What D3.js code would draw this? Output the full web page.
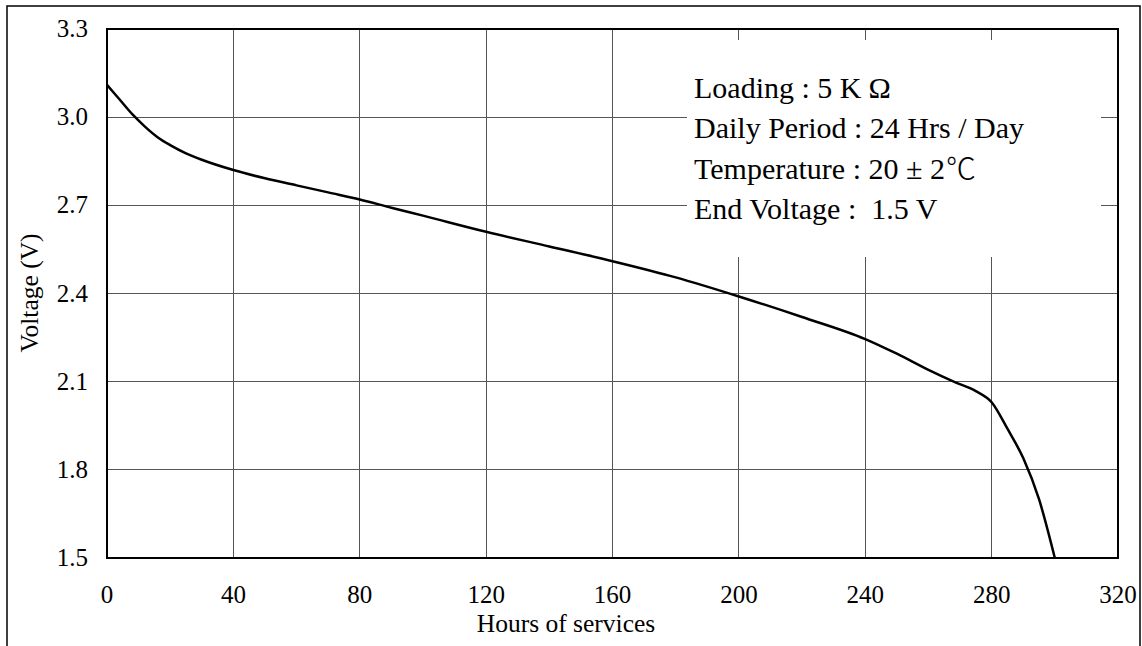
<!DOCTYPE html>
<html>
<head>
<meta charset="utf-8">
<script src="https://cdn.jsdelivr.net/npm/d3@7"></script>
<style>
html,body{margin:0;padding:0;background:#fff;}
svg{display:block;}
text{font-family:"Liberation Serif","Times New Roman",serif;fill:#000;white-space:pre;}
</style>
</head>
<body>
<svg id="chart" width="1142" height="646"></svg>
<script>
const hours =   [0,   4,    8,    12,   16,   20,    25,    30,    40,   50,    60,   70,    80,   90,   100,   120,  140,  160,  180,   200,  220,  240,   250,  260,  268,  275,   280,   285,  290,  295,  300];
const voltage = [3.11,3.06, 3.01, 2.968,2.932,2.905, 2.877, 2.855, 2.82, 2.792, 2.768,2.744, 2.72, 2.692,2.665, 2.61, 2.56, 2.51, 2.455, 2.39, 2.32, 2.245, 2.195,2.14, 2.10, 2.068, 2.03,  1.94, 1.84, 1.70, 1.50];
const xTicks = [0,40,80,120,160,200,240,280,320];
const yTicks = [1.5,1.8,2.1,2.4,2.7,3.0,3.3];
const notes = [
  [["Loading : 5 K",null],["\u03A9","omega"]],
  [["Daily Period : 24 Hrs / Day",null]],
  [["Temperature : 20 \u00B1 2",null],["\u2103","cjk"]],
  [["End Voltage :  1.5 V",null]]
];
const xTitle = "Hours of services";
const yTitle = "Voltage (V)";

const svg = d3.select("#chart");
const L = 107, T = 29, R = 1118, B = 558;
const x = d3.scaleLinear().domain([0,320]).range([L,R]);
const y = d3.scaleLinear().domain([1.5,3.3]).range([B,T]);

// outer frame
svg.append("path").attr("d","M7,660V6H1140V660").attr("fill","none").attr("stroke","#000").attr("stroke-width",1.5);

// grid
const g = svg.append("g").attr("shape-rendering","crispEdges");
g.selectAll("line.v").data(xTicks.slice(1,-1)).join("line")
  .attr("x1",d=>x(d)).attr("x2",d=>x(d)).attr("y1",T).attr("y2",B)
  .attr("stroke","#555").attr("stroke-width",1);
g.selectAll("line.h").data(yTicks.slice(1,-1)).join("line")
  .attr("x1",L).attr("x2",R).attr("y1",d=>y(d)).attr("y2",d=>y(d))
  .attr("stroke","#555").attr("stroke-width",1);

// note box (white background covering grid)
svg.append("rect").attr("x",687).attr("y",40).attr("width",414).attr("height",217).attr("fill","#fff");

// plot border
svg.append("rect").attr("x",L).attr("y",T).attr("width",R-L).attr("height",B-T)
  .attr("fill","none").attr("stroke","#000").attr("stroke-width",1.5).attr("shape-rendering","crispEdges");

// curve
const pts = hours.map((h,i)=>[h,voltage[i]]);
const line = d3.line().x(d=>x(d[0])).y(d=>y(d[1])).curve(d3.curveMonotoneX);
svg.append("path").datum(pts).attr("d",line).attr("fill","none").attr("stroke","#000").attr("stroke-width",2.5);

// tick labels
svg.selectAll("text.xt").data(xTicks).join("text")
  .attr("x",d=>x(d)).attr("y",603).attr("text-anchor","middle").attr("font-size",25).text(d=>d);
svg.selectAll("text.yt").data(yTicks).join("text")
  .attr("x",88).attr("y",d=>y(d)+8).attr("text-anchor","end").attr("font-size",25).text(d=>d.toFixed(1));

// axis titles
svg.append("text").attr("x",566).attr("y",632).attr("text-anchor","middle").attr("font-size",25.5).text(xTitle);
svg.append("text").attr("transform","translate(38,293) rotate(-90)").attr("text-anchor","middle").attr("font-size",25.5).text(yTitle);

// notes
const nt = svg.selectAll("text.note").data(notes).join("text")
  .attr("x",694).attr("y",(d,i)=>97.5+i*40.5).attr("font-size",30);
nt.selectAll("tspan").data(d=>d).join("tspan")
  .attr("dx",d=>d[1]==="omega"?7:(d[1]==="cjk"?1:0))
  .attr("font-family",d=>d[1]==="cjk"?"'Noto Sans CJK JP'":null)
  .attr("font-weight",d=>d[1]==="cjk"?300:null)
  .text(d=>d[0]);
</script>
</body>
</html>
